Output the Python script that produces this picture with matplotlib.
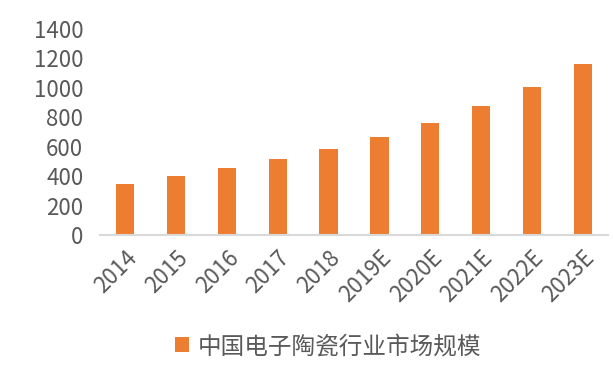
import matplotlib
matplotlib.use("Agg")
import matplotlib.pyplot as plt
from matplotlib.patches import Patch

categories = ["2014", "2015", "2016", "2017", "2018", "2019E", "2020E", "2021E", "2022E", "2023E"]
values = [348, 401, 455, 517, 585, 667, 760, 874, 1006, 1159]
yticks = [0, 200, 400, 600, 800, 1000, 1200, 1400]
series_name = "中国电子陶瓷行业市场规模"

plt.rcParams['font.family'] = ['Noto Sans CJK SC', 'DejaVu Sans']
text_color = "#595959"
bar_color = "#ED7D31"

fig = plt.figure(figsize=(6.13, 3.81), dpi=100)
ax = fig.add_axes([0.163, 0.383, 0.829, 0.541])
x = list(range(len(categories)))
ax.bar(x, values, width=0.36, color=bar_color, zorder=2)
ax.set_xlim(-0.5, len(categories) - 0.5)
ax.set_ylim(0, 1400)
ax.set_yticks(yticks)
ax.set_yticklabels([str(v) for v in yticks], fontsize=16, color=text_color)
ax.set_xticks(x)
ax.set_xticklabels(categories, rotation=45, ha="right", rotation_mode="anchor",
                   fontsize=16, color=text_color)
for s in ["top", "right", "left"]:
    ax.spines[s].set_visible(False)
ax.spines["bottom"].set_color("#d9d9d9")
ax.spines["bottom"].set_linewidth(1.5)
ax.tick_params(axis="both", length=0)
ax.tick_params(axis="x", pad=8)
ax.tick_params(axis="y", pad=12)

handle = Patch(facecolor=bar_color, edgecolor="none")
fig.legend([handle], [series_name], loc="center", bbox_to_anchor=(0.535, 0.09),
           frameon=False, fontsize=17, handlelength=0.6, handleheight=0.6,
           handletextpad=0.35, labelcolor=text_color)

fig.savefig("out.png", dpi=100)
